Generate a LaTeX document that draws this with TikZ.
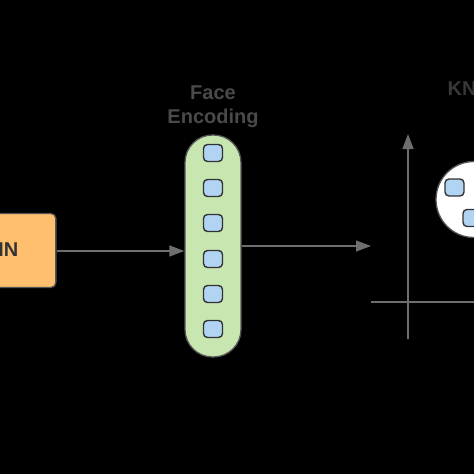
\documentclass[tikz,border=0pt]{standalone}
\usepackage{fontspec}
\setmainfont{Liberation Sans}
\usetikzlibrary{arrows.meta}
\definecolor{boxorange}{HTML}{FFBF6E}
\definecolor{encgreen}{HTML}{C8E6B0}
\definecolor{cellblue}{HTML}{B0D4F2}
\definecolor{edgegray}{HTML}{555555}
\definecolor{linegray}{HTML}{6E6E6E}
\definecolor{labelgray}{HTML}{4A4A4A}
\definecolor{knngray}{HTML}{383838}
\tikzset{
  cell/.style={draw=black!80, line width=1.4pt, fill=cellblue, rounded corners=4pt, minimum width=19pt, minimum height=17pt, inner sep=0pt},
  conn/.style={draw=linegray, line width=1.2pt, -{Triangle[length=15pt,width=11pt]}},
  axis/.style={draw=linegray, line width=1.5pt},
  title/.style={font=\bfseries\fontsize{20}{24}\selectfont, align=center, inner sep=0pt},
}
\begin{document}
\begin{tikzpicture}[x=1pt,y=-1pt]
\useasboundingbox (0,0) rectangle (474,474);
\clip (0,0) rectangle (474,474);
\fill[black] (-5,-5) rectangle (480,480);
% CNN box
\node[draw=edgegray, line width=1.3pt, fill=boxorange, rounded corners=5pt, minimum width=100pt, minimum height=74pt, anchor=east] (cnn) at (56.5,250.5) {};
\node[font=\bfseries\fontsize{20}{24}\selectfont, text=black!80, anchor=east, inner sep=0pt] (cnnlabel) at (18.5,249.5) {CNN};
% encoding capsule
\node[draw=edgegray, line width=1.3pt, fill=encgreen, rounded corners=27.5pt, minimum width=56pt, minimum height=222pt, inner sep=0pt] (enc) at (213,246) {};
\node[title, text=labelgray] (enclabel) at (213,107) {Face\\Encoding};
\foreach \i/\yy in {1/153,2/188,3/223,4/259,5/294,6/329}{
  \node[cell] (c\i) at (213,\yy) {};
}
% arrows
\draw[conn] (cnn.east |- 0,251) -- (enc.west |- 0,251);
\coordinate (kin) at (371,246);
\draw[conn] (enc.east |- 0,246) -- (kin);
% axes
\coordinate (ytop) at (408,134);
\coordinate (ybot) at (408,339);
\coordinate (xl) at (371,302);
\coordinate (xr) at (480,302);
\draw[axis, -{Triangle[length=15pt,width=11pt]}] (ybot) -- (ytop);
\draw[axis] (xl) -- (xr);
% cluster
\node[circle, draw=edgegray, line width=1.3pt, fill=white, minimum size=76pt, inner sep=0pt] (clu) at (474,199.5) {};
\node[cell] (k1) at (454.5,187.5) {};
\node[cell] (k2) at (472.5,218) {};
\node[title, text=knngray, anchor=west] (knn) at (447.5,88.5) {KNN};
\end{tikzpicture}
\end{document}
